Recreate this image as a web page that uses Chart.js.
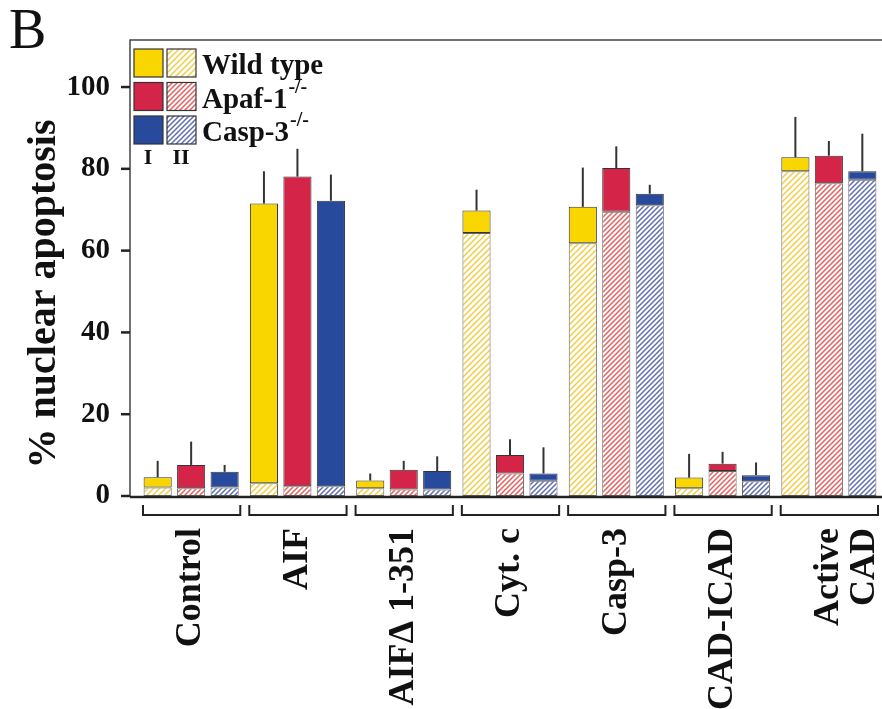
<!DOCTYPE html>
<html>
<head>
<meta charset="utf-8">
<script src="https://cdn.jsdelivr.net/npm/chart.js@4.4.0/dist/chart.umd.min.js"></script>
<style>
  html, body { margin: 0; padding: 0; background: #fff; }
  #wrap { position: relative; width: 882px; height: 709px; }
</style>
</head>
<body>
<div id="wrap"><canvas id="grafico"></canvas></div>
<script>
// categorias do eixo x
const categorias = ['Control', 'AIF', 'AIF\u0394 1-351', 'Cyt. c', 'Casp-3', 'CAD-ICAD', ['Active', 'CAD']];
const ticksY = [0, 20, 40, 60, 80, 100];

// estágio II (hachurado, embaixo) e estágio I (sólido, em cima), % apoptose nuclear
const wtII   = [2.1, 3.1, 1.9, 64.3, 61.8, 1.9, 79.4];
const wtI    = [2.5, 68.4, 1.9, 5.5, 8.9, 2.6, 3.4];
const wtErr  = [4.0, 7.9, 1.7, 5.1, 9.6, 5.8, 9.9];

const apafII  = [1.9, 2.4, 1.6, 5.5, 69.5, 6.1, 76.5];
const apafI   = [5.7, 75.7, 4.8, 4.5, 10.7, 1.8, 6.7];
const apafErr = [5.7, 6.8, 2.2, 3.9, 5.3, 2.9, 3.6];

const caspII  = [2.1, 2.4, 1.6, 3.7, 71.1, 3.6, 77.3];
const caspI   = [3.8, 69.8, 4.5, 1.8, 2.8, 1.5, 2.1];
const caspErr = [1.7, 6.4, 3.6, 6.4, 2.2, 3.1, 9.2];

const AMARELO = 'rgb(250,214,0)';
const VERMELHO = 'rgb(212,36,72)';
const AZUL = 'rgb(40,74,156)';
const FONTE = '"Liberation Serif", "Times New Roman", serif';

// padrão hachurado "/"
function hachura(cor, tam) {
  const c = document.createElement('canvas');
  c.width = tam; c.height = tam;
  const g = c.getContext('2d');
  g.fillStyle = '#fff';
  g.fillRect(0, 0, tam, tam);
  g.strokeStyle = cor;
  g.lineWidth = 1.5;
  g.beginPath();
  g.moveTo(0, tam); g.lineTo(tam, 0);
  g.moveTo(-tam / 2, tam / 2); g.lineTo(tam / 2, -tam / 2);
  g.moveTo(tam / 2, tam * 1.5); g.lineTo(tam * 1.5, tam / 2);
  g.stroke();
  return g.createPattern(c, 'repeat');
}
const hAmarelo = hachura('rgb(240,205,70)', 6);
const hVermelho = hachura('rgb(230,95,95)', 5);
const hAzul = hachura('rgb(95,110,180)', 5);

function serie(label, data, stack, fundo, borda) {
  return {
    label: label, data: data, stack: stack,
    backgroundColor: fundo, borderColor: borda, borderWidth: 1,
    borderSkipped: false,
    categoryPercentage: 0.945, barPercentage: 0.84,
  };
}

const extras = {
  id: 'extras',
  afterDatasetsDraw(chart) {
    const ctx = chart.ctx, y = chart.scales.y;
    const grupos = [[wtII, wtI, wtErr], [apafII, apafI, apafErr], [caspII, caspI, caspErr]];
    ctx.save();
    ctx.strokeStyle = '#333';
    ctx.lineWidth = 2;
    grupos.forEach((g, k) => {
      const meta = chart.getDatasetMeta(2 * k + 1);
      meta.data.forEach((barra, i) => {
        const topo = y.getPixelForValue(g[0][i] + g[1][i] + g[2][i]);
        ctx.beginPath();
        ctx.moveTo(barra.x, barra.y);
        ctx.lineTo(barra.x, topo);
        ctx.stroke();
      });
    });
    ctx.restore();
  },
  afterDraw(chart) {
    const ctx = chart.ctx, area = chart.chartArea, x = chart.scales.x, y = chart.scales.y;
    const esq = area.left - 8;
    ctx.save();
    // moldura
    ctx.strokeStyle = '#444';
    ctx.lineWidth = 1.5;
    ctx.beginPath();
    ctx.moveTo(esq, area.bottom + 1); ctx.lineTo(esq, area.top); ctx.lineTo(chart.width, area.top);
    ctx.stroke();
    ctx.strokeStyle = '#222';
    ctx.lineWidth = 2.5;
    ctx.beginPath();
    ctx.moveTo(esq, area.bottom + 1); ctx.lineTo(chart.width, area.bottom + 1);
    ctx.stroke();
    // marcas do eixo y
    ctx.lineWidth = 2.5;
    ticksY.forEach(v => {
      const py = y.getPixelForValue(v);
      ctx.beginPath(); ctx.moveTo(esq - 9, py); ctx.lineTo(esq, py); ctx.stroke();
    });
    // colchetes sob cada grupo
    const larg = (x.right - x.left) / categorias.length;
    ctx.lineWidth = 2;
    ctx.strokeStyle = '#222';
    categorias.forEach((c, i) => {
      const cx = x.getPixelForValue(i);
      const a = cx - larg / 2 + 5, b = cx + larg / 2 - 4;
      ctx.beginPath();
      ctx.moveTo(a, 505); ctx.lineTo(a, 515); ctx.lineTo(b, 515); ctx.lineTo(b, 505);
      ctx.stroke();
    });
    // título do eixo y
    ctx.fillStyle = '#111';
    ctx.font = 'bold 40px ' + FONTE;
    ctx.textAlign = 'center';
    ctx.textBaseline = 'middle';
    ctx.save();
    ctx.translate(45, 294);
    ctx.rotate(-Math.PI / 2);
    ctx.fillText('% nuclear apoptosis', 0, 0);
    ctx.restore();
    // letra do painel
    ctx.font = '56px ' + FONTE;
    ctx.textAlign = 'left';
    ctx.textBaseline = 'alphabetic';
    ctx.fillText('B', 9, 48);
    // legenda
    const linhas = [
      [AMARELO, hAmarelo, 'Wild type', ''],
      [VERMELHO, hVermelho, 'Apaf-1', '-/-'],
      [AZUL, hAzul, 'Casp-3', '-/-'],
    ];
    linhas.forEach((l, k) => {
      const ty = 49 + k * 33.5;
      ctx.fillStyle = l[0];
      ctx.fillRect(134, ty, 29, 28);
      ctx.fillStyle = l[1];
      ctx.fillRect(167, ty, 29, 28);
      ctx.strokeStyle = '#333';
      ctx.lineWidth = 1.2;
      ctx.strokeRect(134, ty, 29, 28);
      ctx.strokeRect(167, ty, 29, 28);
      ctx.fillStyle = '#111';
      ctx.font = 'bold 29px ' + FONTE;
      ctx.fillText(l[2], 202, ty + 25);
      if (l[3]) {
        const w = ctx.measureText(l[2]).width;
        ctx.font = 'bold 20px ' + FONTE;
        ctx.fillText(l[3], 202 + w + 1, ty + 10);
      }
    });
    ctx.font = 'bold 22px ' + FONTE;
    ctx.textAlign = 'center';
    ctx.fillText('I', 148, 164);
    ctx.fillText('II', 181, 164);
    ctx.restore();
  }
};

new Chart(document.getElementById('grafico'), {
  type: 'bar',
  data: {
    labels: categorias,
    datasets: [
      serie('Wild type II', wtII, 'wt', hAmarelo, '#666'),
      serie('Wild type I', wtI, 'wt', AMARELO, '#333'),
      serie('Apaf-1 II', apafII, 'apaf', hVermelho, '#666'),
      serie('Apaf-1 I', apafI, 'apaf', VERMELHO, '#333'),
      serie('Casp-3 II', caspII, 'casp', hAzul, '#666'),
      serie('Casp-3 I', caspI, 'casp', AZUL, '#333'),
    ],
  },
  options: {
    responsive: true,
    maintainAspectRatio: false,
    animation: false,
    layout: { padding: { top: 40, right: 0, left: 0, bottom: 0 } },
    plugins: { legend: { display: false }, tooltip: { enabled: false } },
    scales: {
      x: {
        stacked: true,
        grid: { display: false },
        border: { display: false },
        ticks: {
          autoSkip: false, maxRotation: 90, minRotation: 90, padding: 24,
          color: '#111', font: { family: FONTE, size: 36, weight: 'bold', lineHeight: 1.0 },
        },
        afterFit: s => { s.height = 213; s.paddingLeft = 0; s.paddingRight = 0; },
      },
      y: {
        stacked: true,
        min: 0,
        max: 111.5,
        grid: { display: false },
        border: { display: false },
        ticks: {
          stepSize: 20, includeBounds: false, padding: 20,
          color: '#111', font: { family: FONTE, size: 29, weight: 'bold' },
          callback: v => (ticksY.includes(v) ? v : ''),
        },
        afterFit: s => { s.width = 138; s.paddingTop = 0; s.paddingBottom = 0; },
      },
    },
  },
  plugins: [extras],
});
</script>
</body>
</html>
